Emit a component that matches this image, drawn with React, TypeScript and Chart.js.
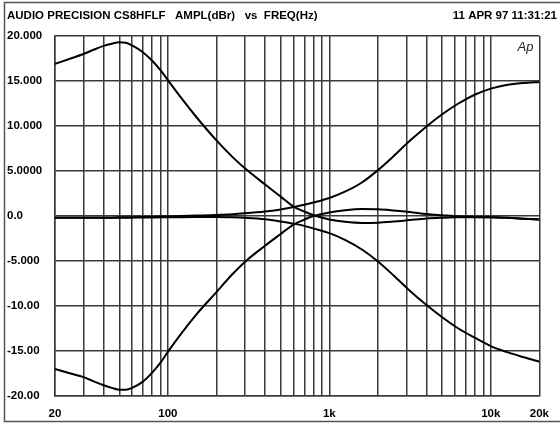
import React, { useEffect, useRef } from "react";
import { Chart, registerables } from "chart.js";

Chart.register(...registerables);

// ---------- data ----------
const freqs = [
  20, 25, 30, 35, 40, 45, 50, 55, 60, 70, 80, 90, 100, 120, 150, 200, 250, 300, 400, 500, 600, 700, 800,
  1000, 1250, 1600, 2000, 2500, 3150, 4000, 5000, 6300, 8000, 10000, 12500, 16000, 20000,
];

const bassBoost = [
  16.9, 17.5, 18.0, 18.5, 18.9, 19.15, 19.3, 19.25, 18.95, 18.2, 17.25, 16.2, 15.1, 13.2, 11.0, 8.4, 6.6, 5.3, 3.5,
  2.15, 1.05, 0.5, 0.08, -0.38, -0.65, -0.78, -0.75, -0.62, -0.45, -0.28, -0.2, -0.15, -0.15, -0.15, -0.2, -0.3, -0.4,
];

const bassCut = [
  -17.0, -17.5, -17.9, -18.4, -18.8, -19.1, -19.3, -19.3, -19.1, -18.4, -17.4, -16.3, -15.1, -13.15, -10.95, -8.45,
  -6.5, -5.1, -3.3, -2.0, -0.95, -0.4, 0.0, 0.4, 0.65, 0.78, 0.75, 0.62, 0.45, 0.22, 0.08, -0.05, -0.1, -0.15, -0.2,
  -0.3, -0.4,
];

const trebleBoost = [
  -0.2, -0.2, -0.2, -0.2, -0.2, -0.2, -0.15, -0.15, -0.15, -0.1, -0.1, -0.05, -0.05, 0.0, 0.05, 0.12, 0.2, 0.3, 0.5,
  0.72, 1.0, 1.25, 1.5, 2.0, 2.7, 3.75, 5.1, 6.65, 8.35, 9.95, 11.3, 12.5, 13.5, 14.15, 14.55, 14.78, 14.9,
];

const trebleCut = [
  -0.2, -0.2, -0.2, -0.2, -0.2, -0.2, -0.2, -0.2, -0.18, -0.17, -0.16, -0.15, -0.15, -0.13, -0.12, -0.12, -0.15,
  -0.2, -0.35, -0.6, -0.85, -1.1, -1.4, -1.9, -2.65, -3.75, -5.05, -6.6, -8.3, -9.9, -11.25, -12.5, -13.55, -14.45,
  -15.1, -15.7, -16.2,
];

const xGridValues = [
  20, 30, 40, 50, 60, 70, 80, 90, 100, 200, 300, 400, 500, 600, 700, 800, 900, 1000, 2000, 3000, 4000, 5000, 6000,
  7000, 8000, 9000, 10000, 20000,
];
const xLabelValues = [20, 100, 1000, 10000, 20000];
const xLabelTexts = ["20", "100", "1k", "10k", "20k"];

const yTickValues = [-20, -15, -10, -5, 0, 5, 10, 15, 20];
const yTickTexts = ["-20.00", "-15.00", "-10.00", "-5.000", "0.0", "5.0000", "10.000", "15.000", "20.000"];

const titleLeft = "AUDIO PRECISION CS8HFLF   AMPL(dBr)   vs  FREQ(Hz)";
const titleRight = "11 APR 97 11:31:21";
const logoText = "Ap";

const FONT = "'Liberation Sans', Arial, sans-serif";

const series = [bassBoost, bassCut, trebleBoost, trebleCut];

export default function App() {
  const ref = useRef<HTMLCanvasElement | null>(null);

  useEffect(() => {
    document.body.style.margin = "0";
    const canvas = ref.current;
    if (!canvas) return;

    const decor = {
      id: "decor",
      beforeDraw(chart: any) {
        const ctx = chart.ctx;
        ctx.save();
        ctx.fillStyle = "#fff";
        ctx.fillRect(0, 0, chart.width, chart.height);
        ctx.restore();
      },
      afterDraw(chart: any) {
        const ctx = chart.ctx;
        ctx.save();
        ctx.strokeStyle = "#555";
        ctx.lineWidth = 1.5;
        ctx.strokeRect(4.5, 2.5, 600, 419);
        ctx.fillStyle = "#000";
        ctx.font = `bold 11.5px ${FONT}`;
        ctx.textBaseline = "alphabetic";
        ctx.textAlign = "left";
        ctx.fillText(titleLeft, 7, 18.5);
        ctx.textAlign = "right";
        ctx.fillText(titleRight, 557, 18.5);
        ctx.font = `italic 13px ${FONT}`;
        ctx.fillStyle = "#222";
        ctx.textAlign = "right";
        ctx.fillText(logoText, chart.chartArea.right - 6, chart.chartArea.top + 15);
        ctx.restore();
      },
    };

    const chart = new Chart(canvas, {
      type: "line",
      data: {
        datasets: series.map((vals) => ({
          data: freqs.map((f, i) => ({ x: f, y: vals[i] })),
          borderColor: "#000",
          borderWidth: 2,
          pointRadius: 0,
          fill: false,
          cubicInterpolationMode: "monotone" as const,
        })),
      },
      options: {
        responsive: false,
        animation: false,
        devicePixelRatio: 1,
        layout: { padding: { left: 7, right: 15, top: 36, bottom: 0 } },
        plugins: { legend: { display: false }, tooltip: { enabled: false }, title: { display: false } },
        scales: {
          x: {
            type: "logarithmic",
            min: 20,
            max: 20000,
            afterBuildTicks: (scale: any) => {
              scale.ticks = xGridValues.map((v) => ({ value: v }));
            },
            afterFit: (scale: any) => {
              scale.height = 30;
            },
            grid: { color: "#3a3a3a", lineWidth: 1.5, drawTicks: false },
            border: { display: true, color: "#3a3a3a", width: 1.5 },
            ticks: {
              autoSkip: false,
              maxRotation: 0,
              minRotation: 0,
              padding: 11,
              color: "#000",
              font: { family: FONT, size: 11.5, weight: "bold" },
              callback: (value: any) => {
                const idx = xLabelValues.indexOf(Number(value));
                return idx >= 0 ? xLabelTexts[idx] : "";
              },
            },
          },
          y: {
            type: "linear",
            min: -20,
            max: 20,
            afterBuildTicks: (scale: any) => {
              scale.ticks = yTickValues.map((v) => ({ value: v }));
            },
            afterFit: (scale: any) => {
              scale.width = 48;
            },
            grid: { color: "#3a3a3a", lineWidth: 1.5, drawTicks: false },
            border: { display: true, color: "#3a3a3a", width: 1.5 },
            ticks: {
              crossAlign: "far",
              padding: 0,
              color: "#000",
              font: { family: FONT, size: 11.5, weight: "bold" },
              callback: (value: any) => {
                const idx = yTickValues.indexOf(Number(value));
                return idx >= 0 ? yTickTexts[idx] : "";
              },
            },
          },
        },
      },
      plugins: [decor],
    } as any);

    return () => chart.destroy();
  }, []);

  return <canvas ref={ref} width={560} height={426} style={{ display: "block" }} />;
}
